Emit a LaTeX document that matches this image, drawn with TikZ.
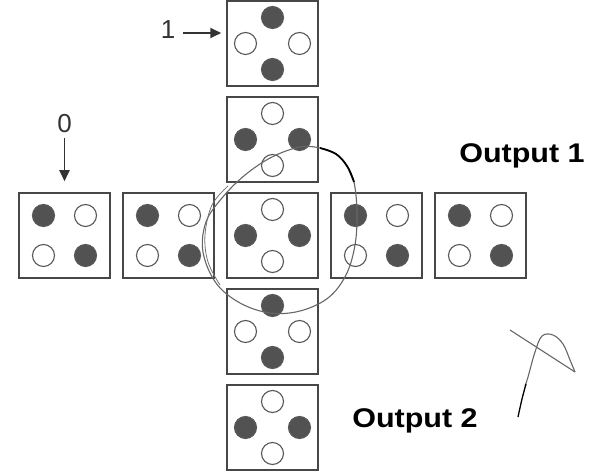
\documentclass[tikz,border=0pt]{standalone}
\usepackage{fontspec}
\usepackage{tikz}
\usetikzlibrary{positioning,arrows.meta}
\newfontfamily\digitfont{Liberation Sans}
\newfontfamily\outfont[FakeStretch=1.13]{Liberation Sans}

\begin{document}
\begin{tikzpicture}[x=1pt,y=1pt,node distance=9.5pt and 11.5pt,
  cell/.style={draw=black!72,line width=1.5pt,minimum width=91pt,minimum height=85pt,inner sep=0pt},
  dot/.style={circle,draw=black!65,line width=1.1pt,minimum size=22pt,inner sep=0pt},
  on/.style={dot,fill=black!68},
  off/.style={dot,fill=white},
  digit/.style={inner sep=0pt,text=black!80,font=\digitfont\fontsize{26}{28}\selectfont},
  outlbl/.style={inner sep=0pt,font=\outfont\bfseries\fontsize{27}{30}\selectfont},
  pointer/.style={-{Triangle[length=11pt,width=10pt]},draw=black!80,line width=1.8pt}]
\useasboundingbox (0,0) rectangle (592,471);

\node[cell] (mid) at (272.5,235.5) {};
\node[cell,above=of mid] (up1) {};
\node[cell,above=of up1] (up2) {};
\node[cell,below=of mid] (dn1) {};
\node[cell,below=of dn1] (dn2) {};
\node[cell,left=of mid] (lf1) {};
\node[cell,left=of lf1] (lf2) {};
\node[cell,right=of mid] (rt1) {};
\node[cell,right=of rt1] (rt2) {};

% square pattern
\foreach \cell in {lf2,lf1,rt1,rt2} {
  \node[on] (\cell-nw) at ([shift={(-21,20)}]\cell.center) {};
  \node[off] (\cell-ne) at ([shift={(21,20)}]\cell.center) {};
  \node[off] (\cell-sw) at ([shift={(-21,-20)}]\cell.center) {};
  \node[on] (\cell-se) at ([shift={(21,-20)}]\cell.center) {};
}
% diamond pattern
\foreach \cell/\vdot/\hdot in {up2/on/off,up1/off/on,mid/off/on,dn1/on/off,dn2/off/on} {
  \node[\vdot] (\cell-n) at ([shift={(0,26)}]\cell.center) {};
  \node[\vdot] (\cell-s) at ([shift={(0,-26)}]\cell.center) {};
  \node[\hdot] (\cell-w) at ([shift={(-27,0)}]\cell.center) {};
  \node[\hdot] (\cell-e) at ([shift={(27,0)}]\cell.center) {};
}

\node[digit] (one) at (168,441) {1};
\draw[pointer,shorten <=15pt,shorten >=5pt] ([yshift=-3pt]one.center) -- ([yshift=-3pt]one.center -| up2.west);
\node[digit] (zero) at ([yshift=69pt]lf2.north) {0};
\draw[pointer,shorten <=5pt,shorten >=11pt] (zero.south) -- (lf2.north);

\node[outlbl] (out1) at (522,315) {Output 1};
\node[outlbl] (out2) at (415,50) {Output 2};

% hand-drawn loop
\draw[black!60,line width=1.1pt] plot[smooth cycle,tension=0.6] coordinates {
  (300,324) (320,323) (336,317) (347,305) (354,289) (357,259) (355,226)
  (346,196) (328,173) (300,160) (270,158) (240,168) (216,188) (203,219)
  (206,249) (222,273) (245,296) (272,314)};
\draw[black!55,line width=0.8pt] plot[smooth,tension=0.6] coordinates {
  (228,285) (212,266) (205,236) (208,209) (220,186)};
\draw[black,line width=1.8pt] plot[smooth,tension=0.6] coordinates {
  (320,323) (336,317) (347,305) (354,289)};
% scribble
\draw[black!60,line width=1.1pt] (510,141) -- (575,99);
\draw[black!60,line width=1.1pt] plot[smooth,tension=0.6] coordinates {
  (525,85) (528,94) (535,119) (542,135) (553,136) (563,127) (570,111) (575,99)};
\draw[black,line width=1.3pt] plot[smooth,tension=0.6] coordinates {
  (518,54) (522,72) (526,87)};
\end{tikzpicture}
\end{document}
